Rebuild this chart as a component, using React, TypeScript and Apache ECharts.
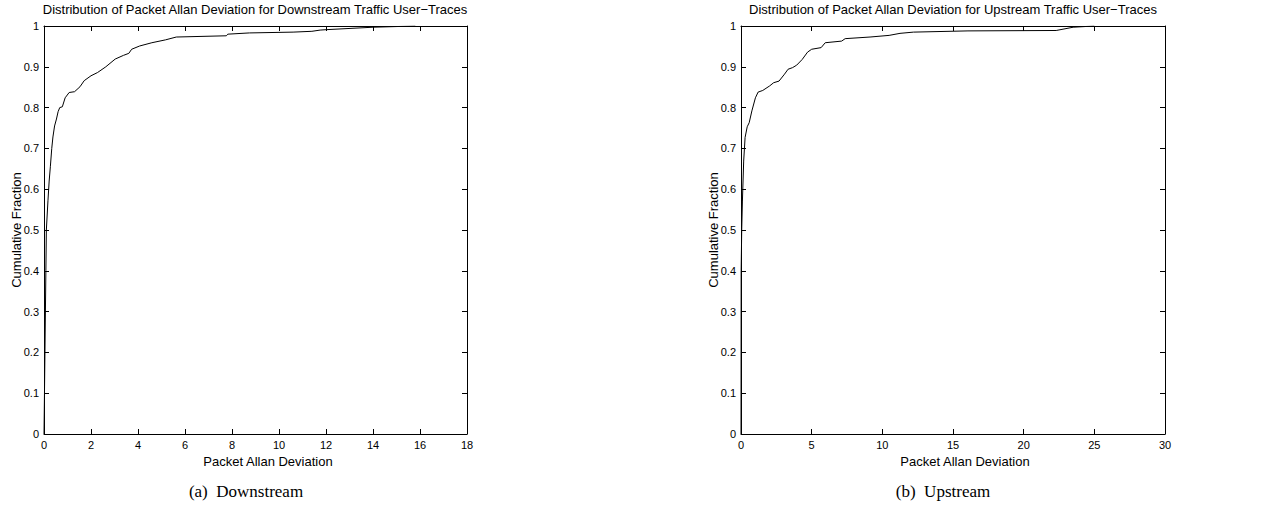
import React, { useEffect, useRef } from "react";
import * as echarts from "echarts";

// Downstream CDF (Packet Allan Deviation, Cumulative Fraction)
const downX = [0, 0.02, 0.04, 0.06, 0.08, 0.1, 0.17, 0.22, 0.27, 0.33, 0.38, 0.45, 0.53, 0.6, 0.67, 0.78, 0.9, 1.07, 1.3, 1.53, 1.71, 2.0, 2.28, 2.63, 3.03, 3.38, 3.61, 3.73, 4.07, 4.59, 5.17, 5.63, 7.76, 7.82, 8.74, 10.6, 11.4, 11.75, 12.0, 14.0, 15.8];
const downY = [0, 0.1, 0.2, 0.3, 0.4, 0.5, 0.573, 0.62, 0.655, 0.7, 0.728, 0.755, 0.772, 0.79, 0.8, 0.802, 0.824, 0.837, 0.839, 0.851, 0.866, 0.878, 0.886, 0.9, 0.919, 0.928, 0.933, 0.943, 0.951, 0.959, 0.966, 0.973, 0.976, 0.98, 0.983, 0.985, 0.987, 0.99, 0.991, 0.997, 1.0];

// Upstream CDF
const upX = [0, 0.01, 0.05, 0.1, 0.19, 0.29, 0.44, 0.58, 0.77, 1.02, 1.21, 1.54, 2.02, 2.31, 2.69, 3.08, 3.33, 3.65, 3.94, 4.33, 4.71, 5.0, 5.67, 5.96, 7.12, 7.37, 9.13, 10.48, 11.25, 12.2, 16.06, 22.3, 23.5, 25.0];
const upY = [0, 0.4, 0.5, 0.571, 0.669, 0.727, 0.753, 0.763, 0.792, 0.824, 0.838, 0.842, 0.853, 0.861, 0.865, 0.882, 0.894, 0.898, 0.904, 0.918, 0.936, 0.943, 0.947, 0.959, 0.963, 0.969, 0.973, 0.977, 0.982, 0.985, 0.988, 0.989, 0.997, 1.0];

const titles = [
  "Distribution of Packet Allan Deviation for Downstream Traffic User\u2212Traces",
  "Distribution of Packet Allan Deviation for Upstream Traffic User\u2212Traces",
];
const captions = ["(a)  Downstream", "(b)  Upstream"];
const xName = "Packet Allan Deviation";
const yName = "Cumulative Fraction";
const xMax = [18, 30];
const xStep = [2, 5];

const SANS = "'Liberation Sans', Arial, Helvetica, sans-serif";
const SERIF = "'Liberation Serif', 'Times New Roman', serif";

export default function App() {
  const ref = useRef<HTMLDivElement>(null);
  useEffect(() => {
    if (!ref.current) return;
    const chart = echarts.init(ref.current, null, { renderer: "svg" });
    const grids = [
      { left: 44, top: 26, width: 423, height: 408 },
      { left: 741, top: 26, width: 424, height: 408 },
    ];
    const axisLine = { show: true, onZero: false, lineStyle: { color: "#000", width: 1 } };
    const tick = { show: true, inside: true, length: 5, lineStyle: { color: "#000", width: 1 } };
    const xAxis: any[] = [];
    const yAxis: any[] = [];
    grids.forEach((_, i) => {
      ["bottom", "top"].forEach((pos) => {
        xAxis.push({
          gridIndex: i,
          type: "value",
          position: pos,
          min: 0,
          max: xMax[i],
          interval: xStep[i],
          axisLine,
          axisTick: tick,
          splitLine: { show: false },
          axisLabel: {
            show: pos === "bottom",
            color: "#000",
            fontSize: 11,
            fontFamily: SANS,
            margin: 5,
          },
        });
      });
      ["left", "right"].forEach((pos) => {
        yAxis.push({
          gridIndex: i,
          type: "value",
          position: pos,
          min: 0,
          max: 1,
          interval: 0.1,
          axisLine,
          axisTick: tick,
          splitLine: { show: false },
          axisLabel: {
            show: pos === "left",
            color: "#000",
            fontSize: 11,
            fontFamily: SANS,
            margin: 5,
            formatter: (v: number) => (v === 0 ? "0" : v === 1 ? "1" : v.toFixed(1)),
          },
        });
      });
    });
    const downData = downX.map((x, k) => [x, downY[k]]);
    const upData = upX.map((x, k) => [x, upY[k]]);
    const lineSeries = (data: number[][], idx: number) => ({
      type: "line",
      xAxisIndex: idx * 2,
      yAxisIndex: idx * 2,
      data,
      showSymbol: false,
      symbol: "none",
      lineStyle: { color: "#000", width: 1 },
      z: 1,
    });
    const txt = (text: string, x: number, y: number, size: number, font: string, rotation = 0) => ({
      type: "text",
      x,
      y,
      rotation,
      style: {
        text,
        fill: "#000",
        font: `${size}px ${font}`,
        textAlign: "center",
        textVerticalAlign: "middle",
      },
    });
    chart.setOption({
      animation: false,
      backgroundColor: "#fff",
      grid: grids,
      xAxis,
      yAxis,
      series: [lineSeries(downData, 0), lineSeries(upData, 1)],
      graphic: [
        txt(titles[0], 255, 9, 13, SANS),
        txt(titles[1], 953, 9, 13, SANS),
        txt(xName, 268, 461, 13, SANS),
        txt(xName, 965, 461, 13, SANS),
        txt(yName, 16, 230, 13, SANS, Math.PI / 2),
        txt(yName, 713, 230, 13, SANS, Math.PI / 2),
        txt(captions[0], 246, 491, 17, SERIF),
        txt(captions[1], 943, 491, 17, SERIF),
      ],
    });
    return () => chart.dispose();
  }, []);
  return (
    <div
      ref={ref}
      style={{ position: "absolute", left: 0, top: 0, width: 1278, height: 523 }}
    />
  );
}
